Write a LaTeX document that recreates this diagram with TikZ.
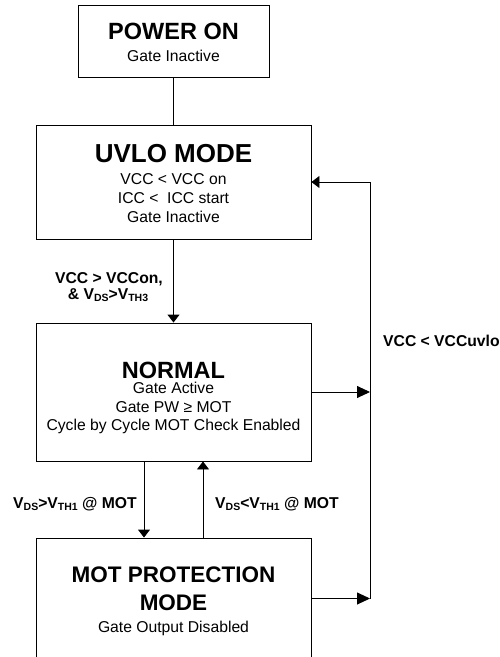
\documentclass[tikz,border=0pt]{standalone}
\usepackage{fontspec}
\setmainfont{Liberation Sans}
\usetikzlibrary{arrows.meta}
\newcommand\lsub[1]{\raisebox{-0.25ex}{\fontsize{10.5}{11}\selectfont #1}}
\begin{document}
\begin{tikzpicture}[x=1pt,y=-1pt,
  box/.style={draw, line width=0.9pt, rectangle, inner sep=0pt},
  ttl/.style={anchor=base, inner sep=0pt, font=\fontsize{23.5}{28}\selectfont\bfseries},
  sub/.style={anchor=base, inner sep=0pt, font=\fontsize{15.7}{19}\selectfont},
  lbl/.style={anchor=base, inner sep=0pt, font=\fontsize{15.7}{19}\selectfont\bfseries},
  conn/.style={line width=0.9pt},
  arr/.style={line width=0.9pt, -{Triangle[length=8pt,width=12pt]}},
  arrl/.style={line width=0.9pt, -{Triangle[length=13pt,width=12pt]}}]
\clip (0,0) rectangle (499,657);
% boxes
\node[box, minimum width=191pt, minimum height=72pt] (pwr) at (173.5,41) {};
\node[box, minimum width=275pt, minimum height=114pt] (uvlo) at (173.5,182) {};
\node[box, minimum width=275pt, minimum height=138pt] (normal) at (173.5,392) {};
\node[box, minimum width=275pt, minimum height=121pt] (mot) at (173.5,598.5) {};
% texts
\node[ttl] (t1) at (173.5,39) {POWER ON};
\node[sub] (t2) at (173.5,61) {Gate Inactive};
\node[ttl, font=\fontsize{26}{30}\selectfont\bfseries] (t3) at (173.5,162) {UVLO MODE};
\node[sub] (t4) at (173.5,184) {VCC < VCC on};
\node[sub] (t5) at (173.5,203) {ICC <\ \ ICC start};
\node[sub] (t6) at (173.5,222) {Gate Inactive};
\node[ttl] (t7) at (173.5,378) {NORMAL};
\node[sub] (t8) at (173.5,393.5) {Gate Active};
\node[sub] (t9) at (173.5,412) {Gate PW ≥ MOT};
\node[sub] (t10) at (173.5,430.5) {Cycle by Cycle MOT Check Enabled};
\node[ttl, font=\fontsize{22.5}{27}\selectfont\bfseries] (t11) at (173.5,582) {MOT PROTECTION};
\node[ttl, font=\fontsize{22.5}{27}\selectfont\bfseries] (t12) at (173.5,610) {MODE};
\node[sub] (t13) at (173.5,632) {Gate Output Disabled};
% labels
\node[lbl] (l1) at (109,283) {VCC > VCCon,};
\node[lbl] (l2) at (108,299.5) {\& V\lsub{DS}>V\lsub{TH3}};
\node[lbl, anchor=base west] (l3) at (383,346) {VCC < VCCuvlo};
\node[lbl, anchor=base west] (l4) at (13,508) {V\lsub{DS}>V\lsub{TH1} @ MOT};
\node[lbl, anchor=base west] (l5) at (215,508) {V\lsub{DS}<V\lsub{TH1} @ MOT};
% connectors
\coordinate (dx) at (144,0);
\coordinate (ux) at (203,0);
\coordinate (bus) at (370,0);
\draw[conn] (pwr.south) -- (uvlo.north);
\draw[arr] (uvlo.south) -- (normal.north);
\draw[arr] (normal.south -| dx) -- (mot.north -| dx);
\draw[arr] (mot.north -| ux) -- (normal.south -| ux);
\draw[arrl] (normal.east) -- (normal.east -| bus);
\draw[arrl] (mot.east) -- (mot.east -| bus);
\draw[arr] (mot.east -| bus) -- (uvlo.east -| bus) -- (uvlo.east);
\end{tikzpicture}
\end{document}
